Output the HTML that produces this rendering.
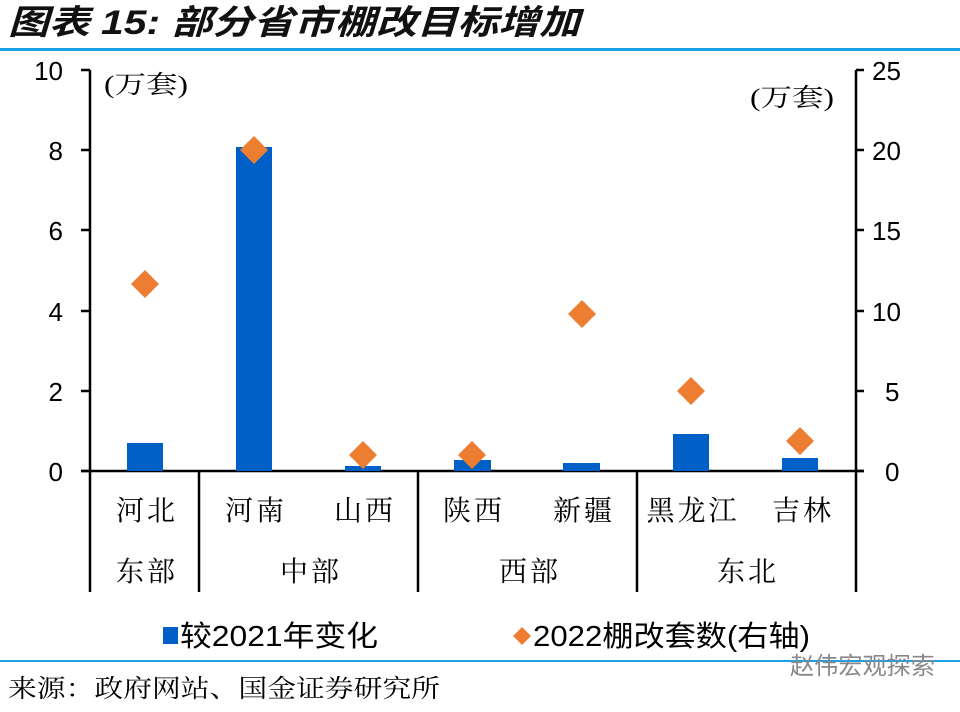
<!DOCTYPE html>
<html><head><meta charset="utf-8"><style>
body{margin:0;background:#fff;}
svg text{font-family:"Liberation Sans","Noto Sans CJK SC",sans-serif;}
.s{font-family:"Liberation Serif","Noto Serif CJK SC",serif !important;}
</style></head><body>
<svg width="960" height="707" viewBox="0 0 960 707" xmlns="http://www.w3.org/2000/svg">
<text x="8" y="34" font-size="34" font-weight="bold" font-style="italic" fill="#111" textLength="572" lengthAdjust="spacingAndGlyphs">图表 15:  部分省市棚改目标增加</text>
<rect x="0" y="48" width="960" height="3" fill="#1aa0e6"/>
<g stroke="#000" stroke-width="2.5" fill="none">
<line x1="90" y1="70" x2="90" y2="592"/>
<line x1="81" y1="70" x2="90" y2="70"/><line x1="81" y1="150" x2="90" y2="150"/><line x1="81" y1="230" x2="90" y2="230"/><line x1="81" y1="311" x2="90" y2="311"/><line x1="81" y1="391" x2="90" y2="391"/><line x1="81" y1="471" x2="90" y2="471"/>
<line x1="856" y1="70" x2="856" y2="592"/>
<line x1="856" y1="70" x2="864" y2="70"/><line x1="856" y1="150" x2="864" y2="150"/><line x1="856" y1="230" x2="864" y2="230"/><line x1="856" y1="311" x2="864" y2="311"/><line x1="856" y1="391" x2="864" y2="391"/><line x1="856" y1="471" x2="864" y2="471"/>
<line x1="81" y1="471" x2="864" y2="471"/>
<line x1="199" y1="471" x2="199" y2="592"/><line x1="418" y1="471" x2="418" y2="592"/><line x1="637" y1="471" x2="637" y2="592"/>
</g>
<g font-size="26" fill="#000" text-anchor="end">
<text x="63" y="80">10</text><text x="63" y="160">8</text><text x="63" y="240">6</text><text x="63" y="321">4</text><text x="63" y="401">2</text><text x="63" y="481">0</text>
</g>
<g font-size="26" fill="#000" text-anchor="start">
<text x="872" y="80">25</text><text x="872" y="160">20</text><text x="872" y="240">15</text><text x="872" y="321">10</text><text x="885" y="401">5</text><text x="885" y="481">0</text>
</g>
<text class="s" x="104" y="93" font-size="25" textLength="84" lengthAdjust="spacingAndGlyphs">(万套)</text>
<text class="s" x="750" y="106" font-size="25" textLength="84" lengthAdjust="spacingAndGlyphs">(万套)</text>
<g fill="#0060c8">
<rect x="127" y="443" width="36" height="28"/>
<rect x="236" y="147" width="36" height="324"/>
<rect x="345" y="466" width="36" height="5"/>
<rect x="454" y="460" width="37" height="11"/>
<rect x="563" y="463" width="37" height="8"/>
<rect x="673" y="434" width="36" height="37"/>
<rect x="782" y="458" width="36" height="13"/>
</g>
<g fill="#ed7d31">
<polygon points="145,270 159,284 145,298 131,284"/>
<polygon points="254,136 268,150 254,164 240,150"/>
<polygon points="363,441 377,455 363,469 349,455"/>
<polygon points="472,441 486,455 472,469 458,455"/>
<polygon points="582,300 596,314 582,328 568,314"/>
<polygon points="691,377 705,391 691,405 677,391"/>
<polygon points="800,427 814,441 800,455 786,441"/>
</g>
<g font-size="28" fill="#000" text-anchor="middle" letter-spacing="3">
<text class="s" x="147" y="520">河北</text><text class="s" x="256" y="520">河南</text><text class="s" x="365" y="520">山西</text><text class="s" x="474" y="520">陕西</text><text class="s" x="584" y="520">新疆</text><text class="s" x="693" y="520">黑龙江</text><text class="s" x="803" y="520">吉林</text>
<text class="s" x="147" y="581">东部</text><text class="s" x="311" y="581">中部</text><text class="s" x="530" y="581">西部</text><text class="s" x="748" y="581">东北</text>
</g>
<rect x="163" y="627" width="15" height="17" fill="#0060c8"/>
<text x="180" y="646" font-size="29" textLength="198" lengthAdjust="spacingAndGlyphs">较2021年变化</text>
<polygon points="522,627 531,636 522,645 513,636" fill="#ed7d31"/>
<text x="533" y="646" font-size="29" textLength="277" lengthAdjust="spacingAndGlyphs">2022棚改套数(右轴)</text>
<rect x="0" y="660" width="960" height="2" fill="#1aa0e6"/>
<text x="790" y="674" font-size="24" fill="#888" textLength="145" lengthAdjust="spacingAndGlyphs">赵伟宏观探索</text>
<text class="s" x="8" y="697" font-size="25" textLength="432" lengthAdjust="spacingAndGlyphs">来源：政府网站、国金证券研究所</text>
</svg>
</body></html>
